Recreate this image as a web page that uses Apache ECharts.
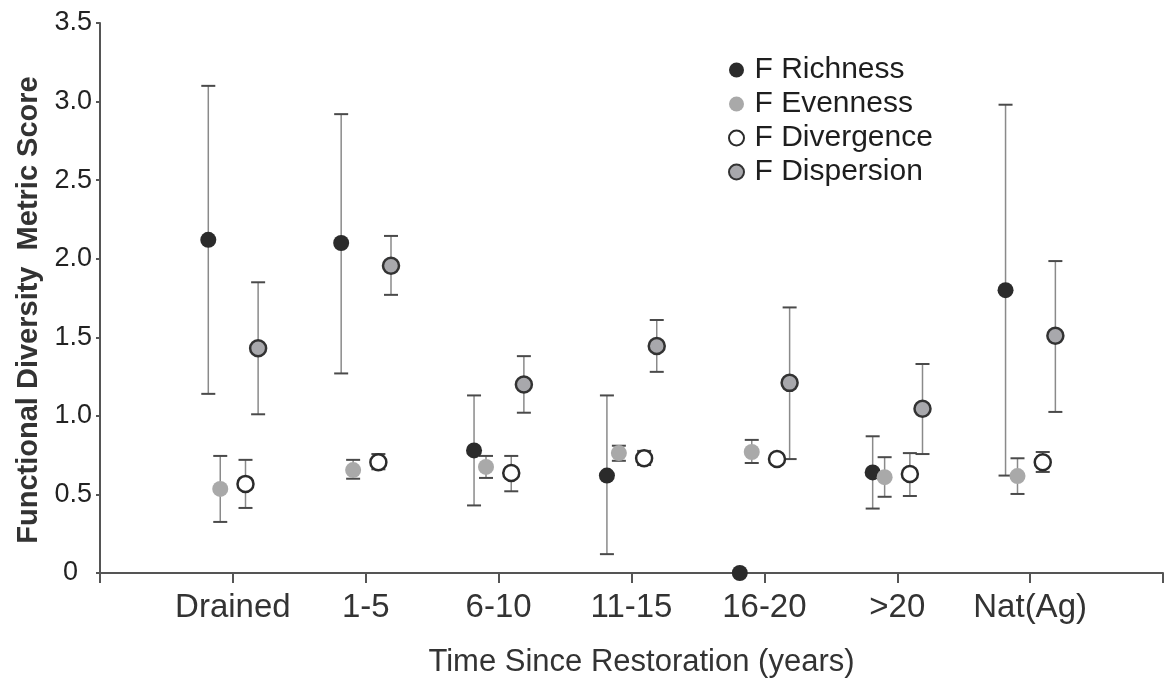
<!DOCTYPE html>
<html>
<head>
<meta charset="utf-8">
<script src="https://cdn.jsdelivr.net/npm/echarts@6/dist/echarts.min.js"></script>
<style>
  html, body { margin: 0; padding: 0; background: #fff; }
  #chart { width: 1166px; height: 685px; }
</style>
</head>
<body>
<div id="chart"></div>
<script>
let chart = echarts.init(document.getElementById('chart'));

// categories on the x axis (placed at 1..7)
let categories = ['Drained', '1-5', '6-10', '11-15', '16-20', '>20', 'Nat(Ag)'];
let y_ticks = ['0', '0.5', '1.0', '1.5', '2.0', '2.5', '3.0', '3.5'];

// F Richness
let richness_mean = [2.12, 2.10, 0.78, 0.62, 0, 0.64, 1.80];
let richness_lo = [1.14, 1.27, 0.43, 0.12, null, 0.41, 0.62];
let richness_hi = [3.10, 2.92, 1.13, 1.13, null, 0.87, 2.98];

// F Evenness
let evenness_mean = [0.535, 0.655, 0.675, 0.763, 0.77, 0.61, 0.617];
let evenness_lo = [0.325, 0.60, 0.605, 0.714, 0.70, 0.485, 0.503];
let evenness_hi = [0.745, 0.72, 0.745, 0.81, 0.847, 0.737, 0.73];

// F Divergence
let divergence_mean = [0.567, 0.705, 0.636, 0.73, 0.725, 0.63, 0.705];
let divergence_lo = [0.414, 0.66, 0.52, 0.687, 0.72, 0.49, 0.643];
let divergence_hi = [0.72, 0.757, 0.745, 0.777, 0.73, 0.763, 0.77];

// F Dispersion
let dispersion_mean = [1.43, 1.955, 1.20, 1.445, 1.21, 1.045, 1.51];
let dispersion_lo = [1.01, 1.77, 1.02, 1.28, 0.725, 0.757, 1.025];
let dispersion_hi = [1.85, 2.145, 1.38, 1.61, 1.69, 1.33, 1.985];

let font = 'Liberation Sans, Arial, Helvetica, sans-serif';

// dodge offsets within each category
let metrics = [
    {name: 'F Richness', mean: richness_mean, lo: richness_lo, hi: richness_hi, offset: -0.185,
        style: {color: '#2b2b2b'}},
    {name: 'F Evenness', mean: evenness_mean, lo: evenness_lo, hi: evenness_hi, offset: -0.095,
        style: {color: '#a9a9a9'}},
    {name: 'F Divergence', mean: divergence_mean, lo: divergence_lo, hi: divergence_hi, offset: 0.095,
        style: {color: '#ffffff', borderColor: '#2b2b2b', borderWidth: 2.5}},
    {name: 'F Dispersion', mean: dispersion_mean, lo: dispersion_lo, hi: dispersion_hi, offset: 0.19,
        style: {color: '#a8a8ac', borderColor: '#333333', borderWidth: 2.5}},
];

function error_bar(params, api) {
    let top = api.coord([api.value(0), api.value(2)]);
    let bot = api.coord([api.value(0), api.value(1)]);
    let hw = 7;
    return {
        type: 'group',
        children: [
            {type: 'line', shape: {x1: top[0], y1: top[1], x2: bot[0], y2: bot[1]},
                style: {stroke: '#8a8a8a', lineWidth: 1.5}},
            {type: 'line', shape: {x1: top[0] - hw, y1: top[1], x2: top[0] + hw, y2: top[1]},
                style: {stroke: '#4a4a4a', lineWidth: 2}},
            {type: 'line', shape: {x1: bot[0] - hw, y1: bot[1], x2: bot[0] + hw, y2: bot[1]},
                style: {stroke: '#4a4a4a', lineWidth: 2}},
        ]
    };
}

let series = [];
metrics.forEach(m => {
    let bars = [];
    let points = [];
    for (let i = 0; i < categories.length; i++) {
        let x = i + 1 + m.offset;
        points.push([x, m.mean[i]]);
        if (m.lo[i] !== null && m.hi[i] !== null) {
            bars.push([x, m.lo[i], m.hi[i]]);
        }
    }
    series.push({
        type: 'custom',
        renderItem: error_bar,
        data: bars,
        encode: {x: 0, y: [1, 2]},
        z: 1,
        silent: true,
    });
    series.push({
        name: m.name,
        type: 'scatter',
        data: points,
        symbol: 'circle',
        symbolSize: 16,
        itemStyle: Object.assign({opacity: 1}, m.style),
        z: 3,
    });
});

let option = {
    animation: false,
    backgroundColor: '#fff',
    grid: {left: 100, right: 0, top: 23, bottom: 112},
    legend: {
        orient: 'vertical',
        left: 723,
        top: 50,
        itemWidth: 26,
        itemHeight: 15,
        itemGap: 4,
        icon: 'circle',
        data: metrics.map(m => m.name),
        textStyle: {fontFamily: font, fontSize: 30, color: '#1e1e1e', lineHeight: 30},
    },
    xAxis: {
        type: 'value',
        min: 0,
        max: 8,
        interval: 1,
        name: 'Time Since Restoration (years)',
        nameLocation: 'middle',
        nameGap: 74,
        nameTextStyle: {fontFamily: font, fontSize: 31, color: '#333', padding: [0, 0, 0, 20]},
        splitLine: {show: false},
        axisLine: {show: true, lineStyle: {color: '#555', width: 2}},
        axisTick: {show: true, length: 10, lineStyle: {color: '#555', width: 2}},
        axisLabel: {
            fontFamily: font, fontSize: 33, color: '#333', margin: 18,
            formatter: v => categories[v - 1] || '',
        },
    },
    yAxis: {
        type: 'value',
        min: 0,
        max: 3.5,
        interval: 0.5,
        name: 'Functional Diversity  Metric Score',
        nameLocation: 'middle',
        nameGap: 55,
        nameTextStyle: {fontFamily: font, fontSize: 29, fontWeight: 'bold', color: '#333', padding: [0, 24, 0, 0]},
        splitLine: {show: false},
        axisLine: {show: true, lineStyle: {color: '#555', width: 2}},
        axisTick: {show: true, length: 4, lineStyle: {color: '#555', width: 2}},
        axisLabel: {
            fontFamily: font, fontSize: 27, color: '#222', margin: 8,
            formatter: v => v === 0 ? '{z|0}' : y_ticks[Math.round(v * 2)],
            rich: {
                z: {fontFamily: font, fontSize: 27, color: '#222', padding: [0, 14, 0, 0]},
            },
        },
    },
    series: series,
};

chart.setOption(option);
</script>
</body>
</html>
